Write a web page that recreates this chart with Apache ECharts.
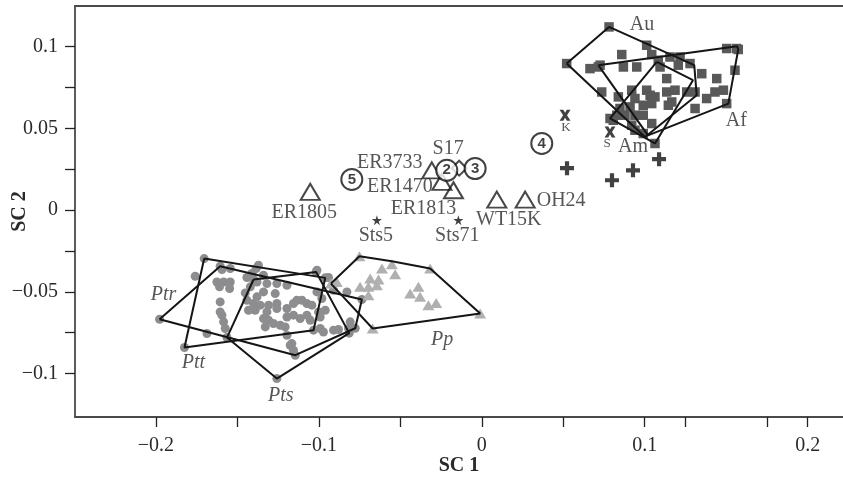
<!DOCTYPE html>
<html>
<head>
<meta charset="utf-8">
<script src="https://cdn.jsdelivr.net/npm/echarts@6/dist/echarts.min.js"></script>
<style>
html,body{margin:0;padding:0;background:#fff;}
#chart{width:843px;height:483px;}
</style>
</head>
<body>
<div id="chart"></div>
<script>
// ---------- DATA ----------
const xTicks = [-0.2, -0.15, -0.1, -0.05, 0, 0.05, 0.1, 0.125, 0.175, 0.2];
const xTickLabels = [-0.2, -0.1, 0, 0.1, 0.2];
const yTicks = [-0.1, -0.075, -0.05, -0.025, 0, 0.025, 0.05, 0.075, 0.1];
const yTickLabels = [-0.1, -0.05, 0, 0.05, 0.1];

// Pan troglodytes (grey circles)
const panTroglodytes = [
  [-0.1978,-0.0668],[-0.1704,-0.0297],[-0.1825,-0.0841],[-0.1258,-0.1031],[-0.1606,-0.0344],[-0.1145,-0.0888],
  [-0.1017,-0.0379],[-0.0961,-0.0415],[-0.1033,-0.0735],[-0.1401,-0.0425],[-0.1564,-0.0780],[-0.0736,-0.0547],
  [-0.0777,-0.0723],[-0.0814,-0.0753],[-0.1759,-0.0405],[-0.1595,-0.0364],[-0.1544,-0.0358],[-0.1626,-0.0440],
  [-0.1585,-0.0440],[-0.1544,-0.0440],[-0.1610,-0.0470],[-0.1548,-0.0480],[-0.1606,-0.0562],[-0.1595,-0.0643],
  [-0.1585,-0.0684],[-0.1575,-0.0725],[-0.1687,-0.0755],[-0.1442,-0.0413],[-0.1411,-0.0388],[-0.1385,-0.0358],
  [-0.1340,-0.0399],[-0.1380,-0.0440],[-0.1421,-0.0470],[-0.1452,-0.0507],[-0.1319,-0.0450],[-0.1258,-0.0450],
  [-0.1196,-0.0460],[-0.1340,-0.0501],[-0.1268,-0.0511],[-0.1380,-0.0531],[-0.1442,-0.0552],[-0.1401,-0.0572],
  [-0.1360,-0.0582],[-0.1309,-0.0582],[-0.1258,-0.0572],[-0.1432,-0.0613],[-0.1391,-0.0613],[-0.1319,-0.0623],
  [-0.1258,-0.0602],[-0.1196,-0.0602],[-0.1156,-0.0572],[-0.1135,-0.0552],[-0.1104,-0.0552],[-0.1074,-0.0572],
  [-0.1043,-0.0582],[-0.1012,-0.0501],[-0.0982,-0.0541],[-0.1196,-0.0654],[-0.1156,-0.0643],[-0.1115,-0.0664],
  [-0.1074,-0.0643],[-0.1053,-0.0674],[-0.1002,-0.0623],[-0.0992,-0.0654],[-0.1340,-0.0664],[-0.1309,-0.0674],
  [-0.1279,-0.0694],[-0.1329,-0.0715],[-0.1237,-0.0705],[-0.1207,-0.0715],[-0.1196,-0.0766],[-0.0992,-0.0725],
  [-0.0972,-0.0746],[-0.1012,-0.0368],[-0.1156,-0.0857],[-0.1176,-0.0827],[-0.0910,-0.0735],[-0.0880,-0.0731],
  [-0.1371,-0.0338],[-0.0941,-0.0413],[-0.0910,-0.0491],[-0.0828,-0.0501],[-0.0961,-0.0613],[-0.0818,-0.0725],
  [-0.0808,-0.0684],[-0.1606,-0.0623],[-0.1166,-0.0817]
];
// Pan paniscus (light grey triangles)
const panPaniscus = [
  [-0.0926,-0.0450],[-0.0751,-0.0283],[-0.0613,-0.0358],[-0.0552,-0.0331],[-0.0532,-0.0393],[-0.0685,-0.0419],
  [-0.0634,-0.0425],[-0.0747,-0.0470],[-0.0696,-0.0470],[-0.0644,-0.0460],[-0.0696,-0.0521],[-0.0317,-0.0358],
  [-0.0389,-0.0470],[-0.0440,-0.0511],[-0.0379,-0.0531],[-0.0328,-0.0582],[-0.0280,-0.0568],[-0.0890,-0.0440],
  [-0.0670,-0.0725],[-0.0010,-0.0633]
];
// Homo sapiens (dark squares)
const homoSapiens = [
  [0.0781,0.1120],[0.0521,0.0896],[0.1012,0.1008],[0.1043,0.0951],[0.0859,0.0951],[0.0664,0.0865],
  [0.0715,0.0875],[0.0869,0.0875],[0.0951,0.0875],[0.1094,0.0875],[0.1155,0.0936],[0.1217,0.0936],
  [0.1206,0.0886],[0.1278,0.0896],[0.1350,0.0834],[0.1442,0.0804],[0.1503,0.0988],[0.1564,0.0988],
  [0.1554,0.0855],[0.0736,0.0722],[0.0838,0.0692],[0.0920,0.0733],[0.0940,0.0682],[0.1012,0.0733],
  [0.1043,0.0651],[0.1063,0.0692],[0.1135,0.0804],[0.1135,0.0722],[0.1186,0.0733],[0.1258,0.0722],
  [0.1309,0.0722],[0.1380,0.0682],[0.1483,0.0733],[0.1503,0.0651],[0.0910,0.0631],[0.0991,0.0641],
  [0.1166,0.0661],[0.1309,0.0621],[0.0879,0.0580],[0.0828,0.0580],[0.0940,0.0580],[0.0991,0.0580],
  [0.0920,0.0519],[0.1043,0.0529],[0.1063,0.0407],[0.0991,0.0468],[0.0940,0.0488],[0.0807,0.0549],
  [0.1431,0.0722],[0.0848,0.0621],[0.1083,0.0916],[0.0787,0.0560],[0.1574,0.0982],[0.0726,0.0886],
  [0.1033,0.0702],[0.1145,0.0641]
];

// Convex hulls
const ptrHull = [[-0.1978,-0.0668],[-0.1606,-0.0344],[-0.0736,-0.0547],[-0.0777,-0.0723],[-0.1145,-0.0888]];
const pttHull = [[-0.1704,-0.0297],[-0.0961,-0.0415],[-0.1033,-0.0735],[-0.1825,-0.0841]];
const ptsHull = [[-0.1401,-0.0425],[-0.1017,-0.0379],[-0.0814,-0.0753],[-0.1258,-0.1031],[-0.1564,-0.0780]];
const ppHull  = [[-0.0926,-0.0450],[-0.0751,-0.0283],[-0.0552,-0.0313],[-0.0317,-0.0358],[-0.0010,-0.0633],[-0.0670,-0.0725]];
const auHull  = [[0.0521,0.0896],[0.0781,0.1120],[0.1304,0.0886],[0.1319,0.0702],[0.1002,0.0447]];
const afHull  = [[0.0715,0.0886],[0.1566,0.1002],[0.1574,0.0982],[0.1513,0.0651],[0.1020,0.0457]];
const amHull  = [[0.1074,0.0906],[0.1296,0.0794],[0.1063,0.0407],[0.0787,0.0560]];
const hullNames = ['Ptr', 'Ptt', 'Pts', 'Pp', 'Au', 'Af', 'Am'];

// Fossil specimens
const fossilTriangles = [
  ['ER1805', -0.1053, 0.0111], ['ER3733', -0.0307, 0.0243], ['ER1470', -0.0245, 0.0172],
  ['ER1813', -0.0174, 0.0121], ['WT15K', 0.0092, 0.0064], ['OH24', 0.0266, 0.0064]
];
const fossilDiamond = [['S17', -0.0139, 0.0256]];
const fossilStars = [['Sts5', -0.0644, -0.0062], ['Sts71', -0.0144, -0.0062]];
const fossilCrosses = [['K', 0.0511, 0.0580], ['S', 0.0787, 0.0478]];
const fossilPlus = [[0.0523, 0.0256], [0.0799, 0.0182], [0.0928, 0.0243], [0.1088, 0.0311]];
const circledNumbers = [['2', -0.0215, 0.0243], ['3', -0.0041, 0.0254], ['4', 0.0368, 0.0407], ['5', -0.0798, 0.0187]];

// ---------- STYLE ----------
const SERIF = '"Liberation Serif", "DejaVu Serif", serif';
const TXT = '#2a2a2a';
const FS = 20;
const labelOffsets = {
  ER1805: [-6, 21], ER3733: [-42, -8], ER1470: [-42, 5], ER1813: [-30, 19], WT15K: [12, 20], OH24: [36, 1],
  S17: [-11, -19], Sts5: [-1, 16], Sts71: [-1, 16], K: [1, 12], S: [-3, 12],
  Ptr: [4, -24], Ptt: [9, 15], Pts: [4, 17], Pp: [-38, 26], Au: [33, -2], Af: [8, 17], Am: [-22, 3]
};
const hullAnchors = { Ptr: ptrHull[0], Ptt: pttHull[3], Pts: ptsHull[3], Pp: ppHull[4], Au: auHull[1], Af: afHull[3], Am: amHull[2] };
const italicNames = { Ptr: true, Ptt: true, Pts: true, Pp: true };

const X_MARK = 'path://M0,0L3.4,0L5,2.8L6.6,0L10,0L6.8,5L10,10L6.6,10L5,7.2L3.4,10L0,10L3.2,5Z';
const PLUS_MARK = 'path://M3.5,0H6.5V3.5H10V6.5H6.5V10H3.5V6.5H0V3.5H3.5Z';
const STAR_MARK = 'path://M50,0L61,35H98L68,57L79,91L50,70L21,91L32,57L2,35H39Z';

function withLabel(name, x, y, fontSize) {
  return {
    name: name, value: [x, y],
    label: { show: true, position: 'inside', offset: labelOffsets[name], formatter: name,
      fontFamily: SERIF, fontSize: fontSize || FS, color: TXT }
  };
}
function hullSeries(pts) {
  return {
    type: 'line', data: pts.concat([pts[0]]), symbol: 'none', silent: true, z: 4,
    lineStyle: { color: '#151515', width: 2 }
  };
}
const minusFmt = v => (v < 0 ? '\u2212' + String(-v) : String(v));

const chart = echarts.init(document.getElementById('chart'), null, { renderer: 'canvas' });
const axisLineStyle = { color: '#4a4a4a', width: 1.8 };
const option = {
  animation: false,
  backgroundColor: '#fff',
  grid: { left: 75, right: 0, top: 6, bottom: 66, containLabel: false, outerBoundsMode: 'none' },
  xAxis: [{
    type: 'value', min: -0.2497, max: 0.2217, position: 'bottom',
    name: 'SC 1', nameLocation: 'middle', nameGap: 39, nameMoveOverlap: false,
    nameTextStyle: { fontFamily: SERIF, fontWeight: 'bold', fontSize: FS, color: TXT },
    axisLine: { show: true, onZero: false, lineStyle: axisLineStyle },
    axisTick: { show: true, inside: false, length: 10, customValues: xTicks, lineStyle: { color: '#222', width: 1.3 } },
    axisLabel: { customValues: xTickLabels, margin: 19, formatter: minusFmt, fontFamily: SERIF, fontSize: FS, color: TXT },
    splitLine: { show: false }
  }, {
    type: 'value', min: -0.2497, max: 0.2217, position: 'top',
    axisLine: { show: true, onZero: false, lineStyle: axisLineStyle },
    axisTick: { show: false }, axisLabel: { show: false }, splitLine: { show: false }
  }],
  yAxis: [{
    type: 'value', min: -0.1266, max: 0.1248,
    name: 'SC 2', nameLocation: 'middle', nameGap: 45, nameRotate: 90, nameMoveOverlap: false,
    nameTextStyle: { fontFamily: SERIF, fontWeight: 'bold', fontSize: FS, color: TXT },
    axisLine: { show: true, onZero: false, lineStyle: axisLineStyle },
    axisTick: { show: true, inside: false, length: 10, customValues: yTicks, lineStyle: { color: '#222', width: 1.3 } },
    axisLabel: { customValues: yTickLabels, margin: 17, formatter: minusFmt, fontFamily: SERIF, fontSize: FS, color: TXT },
    splitLine: { show: false }
  }],
  series: [
    { type: 'scatter', data: panTroglodytes, symbol: 'circle', symbolSize: 9, z: 2,
      itemStyle: { color: '#8d8d8f', opacity: 1 } },
    { type: 'scatter', data: panPaniscus, symbol: 'triangle', symbolSize: [12, 10], z: 2,
      itemStyle: { color: '#b0b0b0', opacity: 1 } },
    { type: 'scatter', data: homoSapiens, symbol: 'rect', symbolSize: 9.5, z: 2,
      itemStyle: { color: '#595959', opacity: 1 } },
    hullSeries(ptrHull), hullSeries(pttHull), hullSeries(ptsHull), hullSeries(ppHull),
    hullSeries(auHull), hullSeries(afHull), hullSeries(amHull),
    { type: 'scatter', symbolSize: 0, z: 5, silent: true,
      data: hullNames.map(n => {
        const it = withLabel(n, hullAnchors[n][0], hullAnchors[n][1], FS);
        if (italicNames[n]) it.label.fontStyle = 'italic';
        return it;
      }) },
    { type: 'scatter', symbol: 'triangle', symbolSize: [19, 16], z: 6,
      itemStyle: { color: 'rgba(0,0,0,0)', borderColor: '#1a1a1a', borderWidth: 2 },
      data: fossilTriangles.map(d => withLabel(d[0], d[1], d[2])) },
    { type: 'scatter', symbol: 'diamond', symbolSize: [15, 15], z: 6,
      itemStyle: { color: 'rgba(0,0,0,0)', borderColor: '#1a1a1a', borderWidth: 2 },
      data: fossilDiamond.map(d => withLabel(d[0], d[1], d[2])) },
    { type: 'scatter', symbol: STAR_MARK, symbolSize: 10, z: 6,
      itemStyle: { color: '#111' },
      data: fossilStars.map(d => withLabel(d[0], d[1], d[2])) },
    { type: 'scatter', symbol: X_MARK, symbolSize: 11, z: 6,
      itemStyle: { color: '#111' },
      data: fossilCrosses.map(d => withLabel(d[0], d[1], d[2], 13)) },
    { type: 'scatter', symbol: PLUS_MARK, symbolSize: 14, z: 6,
      itemStyle: { color: '#111' }, data: fossilPlus },
    { type: 'scatter', symbol: 'circle', symbolSize: 21, z: 7,
      itemStyle: { color: '#fff', borderColor: '#111', borderWidth: 2 },
      data: circledNumbers.map(d => ({ name: d[0], value: [d[1], d[2]] })),
      label: { show: true, position: 'inside', formatter: '{b}', fontFamily: '"Liberation Sans", Arial, sans-serif',
        fontWeight: 'bold', fontSize: 15, color: '#111' } }
  ]
};
chart.setOption(option);
</script>
</body>
</html>
